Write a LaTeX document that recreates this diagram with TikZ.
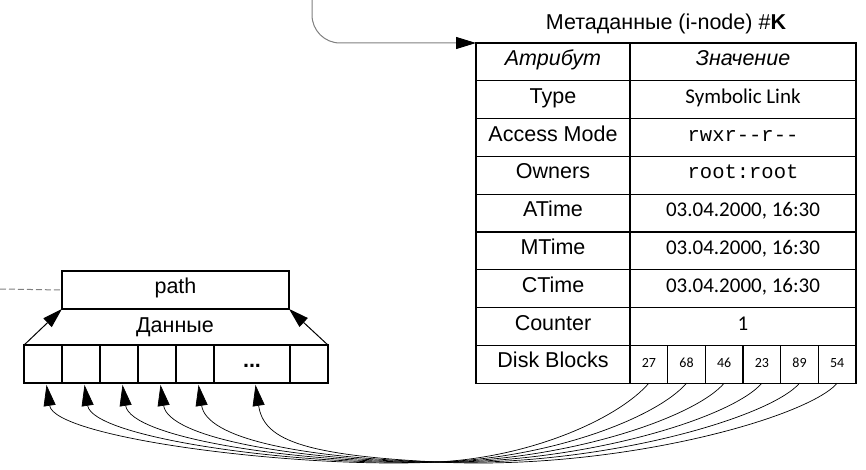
\documentclass[tikz,border=0pt]{standalone}
\usepackage{fontspec}
\setmainfont{Liberation Sans}
\setmonofont{Liberation Mono}
\newfontfamily\calfont[Numbers=Lining]{Carlito}
\usetikzlibrary{arrows.meta,positioning}

\newcommand\tabfont{\fontsize{21.5}{24}\selectfont}
\newcommand\valfont{\calfont\fontsize{21}{24}\selectfont}
\newcommand\monofont{\ttfamily\fontsize{20.5}{24}\selectfont}

\tikzset{
  cell/.style={draw, line width=1.3pt, inner sep=0pt, outer sep=0pt,
    minimum height=37.8pt, text height=1.38ex, text depth=0pt, font=\tabfont},
  attr/.style={cell, minimum width=154pt},
  val/.style={cell, minimum width=226pt, font=\valfont},
  blk/.style={cell, minimum width=38pt},
  dsk/.style={cell, minimum width=37.67pt, font=\calfont\fontsize{14}{16}\selectfont},
  bigtip/.style={-{Triangle[length=20pt,width=12pt,color=black]}},
  wire/.style={line width=0.7pt, -{Triangle[length=21pt,width=12pt]}},
}

\begin{document}
\begin{tikzpicture}[x=1pt, y=-1pt]
  \useasboundingbox (0,0) rectangle (866,470);
  \def\Xa{553};  % attribute column
  \def\Xv{743};  % value column
  \def\Yt{43};   % table top
  \def\Rh{37.8}; % row height

  % title
  \node[font=\tabfont] (title) at (666,24) {Метаданные (i-node) \#\textbf{K}};

  % i-node table
  \node[attr, font=\tabfont\itshape] (h1) at (\Xa, \Yt + 0.5*\Rh) {Атрибут};
  \node[attr, minimum width=226pt, font=\tabfont\itshape] (h2) at (\Xv, \Yt + 0.5*\Rh) {Значение};
  \node[attr] (a1) at (\Xa, \Yt + 1.5*\Rh) {Type};
  \node[val]  (v1) at (\Xv, \Yt + 1.5*\Rh) {Symbolic Link};
  \node[attr] (a2) at (\Xa, \Yt + 2.5*\Rh) {Access Mode};
  \node[val, font=\monofont] (v2) at (\Xv, \Yt + 2.5*\Rh) {rwxr-{}-r-{}-};
  \node[attr] (a3) at (\Xa, \Yt + 3.5*\Rh) {Owners};
  \node[val, font=\monofont] (v3) at (\Xv, \Yt + 3.5*\Rh) {root:root};
  \node[attr] (a4) at (\Xa, \Yt + 4.5*\Rh) {ATime};
  \node[val]  (v4) at (\Xv, \Yt + 4.5*\Rh) {03.04.2000, 16:30};
  \node[attr] (a5) at (\Xa, \Yt + 5.5*\Rh) {MTime};
  \node[val]  (v5) at (\Xv, \Yt + 5.5*\Rh) {03.04.2000, 16:30};
  \node[attr] (a6) at (\Xa, \Yt + 6.5*\Rh) {CTime};
  \node[val]  (v6) at (\Xv, \Yt + 6.5*\Rh) {03.04.2000, 16:30};
  \node[attr] (a7) at (\Xa, \Yt + 7.5*\Rh) {Counter};
  \node[val]  (v7) at (\Xv, \Yt + 7.5*\Rh) {1};
  \node[attr] (a8) at (\Xa, \Yt + 8.5*\Rh) {Disk Blocks};
  \foreach \n [count=\i] in {27,68,46,23,89,54}
    \node[dsk] (k\i) at ({630 + 37.67*(\i - 0.5)}, \Yt + 8.5*\Rh) {\n};

  % link into the table
  \coordinate (src) at (312,0);
  \draw[gray, line width=1pt, bigtip, rounded corners=28pt] (src) |- (h1.north west);

  % data block
  \node[cell, minimum width=227pt] (path) at (175.5,290) {path};
  \node[font=\tabfont] (data) at (175,327) {Данные};
  \foreach \i/\x in {1/43, 2/81, 3/119, 4/157, 5/195, 7/309}
    \node[blk] (b\i) at (\x,364) {};
  \node[blk, minimum width=76pt] (b6) at (252,364) {\textbf{...}};
  \coordinate (ext) at (0,289);
  \draw[gray, line width=1pt, dashed, dash pattern=on 6pt off 3pt] (ext) -- (path.west);
  \draw[line width=1pt, bigtip] (b1.north west) -- (path.south west);
  \draw[line width=1pt, bigtip] (b7.north east) -- (path.south east);

  % block pointers
  \coordinate (M) at (437,462);
  \foreach \i/\s in {1/-0.05, 2/-0.03, 3/-0.01, 4/0.01, 5/0.03, 6/0.05}{
    \pgfmathsetmacro\xd{630 + 37.67*(\i - 0.5)}
    \pgfmathsetmacro\dr{0.45*(\xd - 437)}
    \draw[wire] (k\i.south) .. controls ({\xd - 30}, 418) and ({437 + \dr}, {462 + \s*\dr}) .. (M)
      .. controls ({437 - 140}, {462 - \s*140}) and ([xshift=11.5pt, yshift=-55pt]b\i.south) .. ([xshift=3.5pt, yshift=-2pt]b\i.south);
  }
\end{tikzpicture}
\end{document}
